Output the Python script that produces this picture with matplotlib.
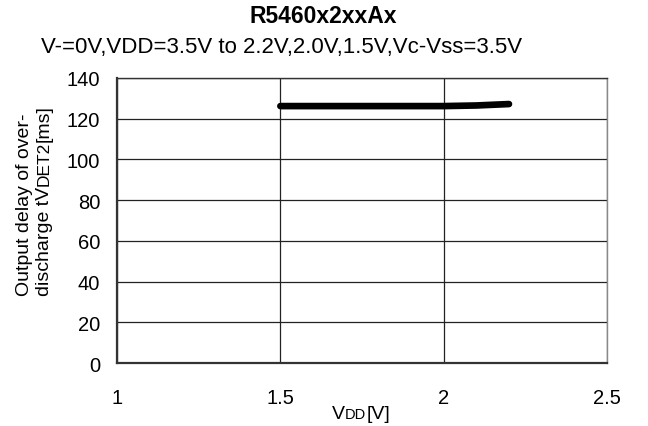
import numpy as np
import matplotlib
matplotlib.use('Agg')
import matplotlib.pyplot as plt

# Data
vdd = [1.5, 1.6, 1.7, 1.8, 1.9, 2.0, 2.1, 2.2]
tdet2 = [126.2, 126.2, 126.2, 126.2, 126.2, 126.2, 126.5, 127.2]

xticks = [1, 1.5, 2, 2.5]
xticklabels = ['1','1.5','2','2.5']
yticks = [0, 20, 40, 60, 80, 100, 120, 140]

plt.rcParams['font.family'] = ['Liberation Sans', 'DejaVu Sans']

W,H = 648,427
fig = plt.figure(figsize=(W/100,H/100),dpi=100,facecolor='w')
ax = fig.add_axes([0.1806,0.1475,0.7561,0.6675])
renderer = fig.canvas.get_renderer()

ax.plot(vdd,tdet2,'-',color='k',lw=4.8,solid_capstyle='round')

ax.set_xlim(1,2.5)
ax.set_ylim(0,140)
ax.set_xticks(xticks)
ax.set_xticklabels(xticklabels)
ax.set_yticks(yticks)
ax.grid(True,color='#222222',lw=0.9)
ax.tick_params(axis='x',length=0,pad=18,labelsize=14.5)
ax.tick_params(axis='y',length=0,pad=12,labelsize=14.5)
for s in ax.spines.values():
    s.set_color('#333333')
    s.set_linewidth(1.0)
ax.spines['left'].set_linewidth(1.6)
ax.spines['bottom'].set_linewidth(1.6)
ax.spines['right'].set_color('#888888')

def put_pieces(x0,y0,pieces,vertical=False,center=False,gap=0.5):
    # pieces: (text, fontsize), drawn on one baseline; x0,y0 in pixels from bottom-left
    texts = []
    for s,fs in pieces:
        t = fig.text(0,0,s,fontsize=fs,rotation=90 if vertical else 0,rotation_mode='anchor',
                     ha='left',va='baseline')
        texts.append(t)
    lens = []
    for t in texts:
        bb = t.get_window_extent(renderer)
        lens.append((bb.height if vertical else bb.width)+gap)
    pos = (y0 if vertical else x0)-(sum(lens)/2 if center else 0)
    for t,l in zip(texts,lens):
        if vertical:
            t.set_position((x0/W,pos/H))
        else:
            t.set_position((pos/W,y0/H))
        pos += l

# x label: V with small DD
put_pieces(361,8,[('V',14),('DD',10.5),('[V]',14)],center=True,gap=0.0)
# y label, two lines
put_pieces(29,131,[('Output delay of over-',14)],vertical=True)
put_pieces(49,131,[('discharge tV',14),('DET2',12.5),('[ms]',14)],vertical=True,gap=0.5)

fig.text(0.499,0.962,'R5460x2xxAx',ha='center',va='center',fontsize=16.5,fontweight='bold')
fig.text(0.434,0.888,'V-=0V,VDD=3.5V to 2.2V,2.0V,1.5V,Vc-Vss=3.5V',ha='center',va='center',fontsize=16)

plt.savefig('out.png',dpi=100)
